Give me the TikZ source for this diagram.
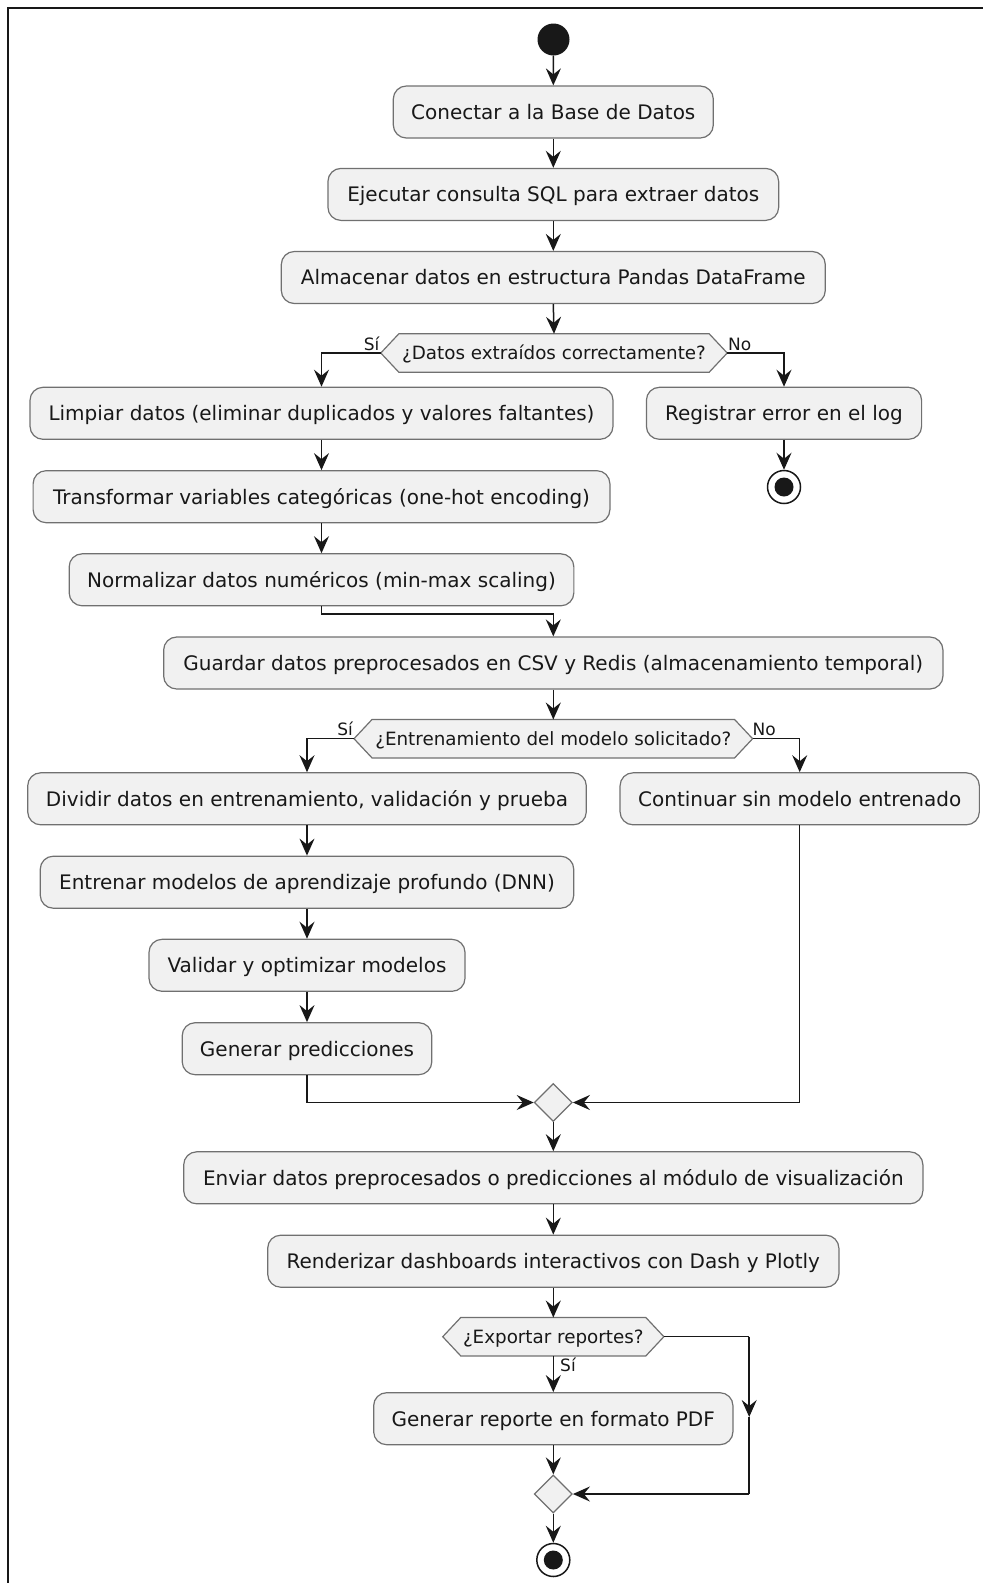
\documentclass[tikz,border=0pt]{standalone}
\usepackage{fontspec}
\setmainfont{DejaVu Sans}
\usetikzlibrary{arrows.meta,shapes.geometric,backgrounds}

\definecolor{boxfill}{HTML}{F1F1F1}
\definecolor{ink}{HTML}{181818}
\definecolor{edge}{HTML}{707070}

\tikzset{
  act/.style={draw=edge, line width=1.2pt, fill=boxfill, rounded corners=13pt,
    minimum height=52pt, inner sep=0pt, text=ink, text height=14.6pt, text depth=0pt,
    font=\fontsize{20}{24}\selectfont},
  hexbox/.style={minimum height=38pt, inner sep=0pt, text=ink, text height=13.3pt,
    text depth=0pt, font=\fontsize{18.3}{22}\selectfont},
  hexshape/.style={draw=edge, line width=1.2pt, fill=boxfill},
  merge/.style={diamond, draw=edge, fill=boxfill, line width=1.2pt,
    minimum size=38pt, inner sep=0pt},
  startdot/.style={circle, fill=ink, minimum size=32pt, inner sep=0pt},
  enddot/.style={circle, draw=ink, line width=1.5pt, fill=white, minimum size=33pt,
    inner sep=0pt, path picture={\fill[ink] (path picture bounding box.center) circle (9.5pt);}},
  conn/.style={draw=ink, line width=1.5pt},
  arr/.style={conn, -{Stealth[length=17pt,width=15pt,inset=6pt]}},
  lbl/.style={font=\fontsize{17}{20}\selectfont, inner sep=0pt, text=ink}
}

\begin{document}
\begin{tikzpicture}[x=1pt,y=-1pt]
\useasboundingbox (0,0) rectangle (983,1583);

% outer frame (top and left edges)
\draw[ink, line width=2pt, line cap=rect] (8.3,1583) -- (8.3,8.3) -- (983,8.3);

% main column
\node[startdot] (s) at (553.5,39.5) {};
\node[act, minimum width=320pt] (b1) at (553.3,112) {Conectar a la Base de Datos};
\node[act, minimum width=450.7pt] (b2) at (553.3,194.4) {Ejecutar consulta SQL para extraer datos};
\node[act, minimum width=544pt] (b3) at (553.3,277.5) {Almacenar datos en estructura Pandas DataFrame};
\node[hexbox, minimum width=346pt] (d1) at (554,353) {¿Datos extraídos correctamente?};

% preprocessing branch
\node[act, minimum width=583pt] (lim) at (321.5,413.3) {Limpiar datos (eliminar duplicados y valores faltantes)};
\node[act, minimum width=275.2pt] (reg) at (784,413.3) {Registrar error en el log};
\node[enddot] (e1) at (784,487) {};
\node[act, minimum width=576.8pt] (tra) at (321.5,496.7) {Transformar variables categóricas (one-hot encoding)};
\node[act, minimum width=504.7pt] (nor) at (321.5,579.8) {Normalizar datos numéricos (min-max scaling)};
\node[act, minimum width=779.3pt] (gua) at (553.3,663) {Guardar datos preprocesados en CSV y Redis (almacenamiento temporal)};
\node[hexbox, minimum width=398.2pt] (d2) at (553.3,738.7) {¿Entrenamiento del modelo solicitado?};

% training branch
\node[act, minimum width=558.6pt] (div) at (307,798.8) {Dividir datos en entrenamiento, validación y prueba};
\node[act, minimum width=359.3pt] (con) at (799.7,798.8) {Continuar sin modelo entrenado};
\node[act, minimum width=533.5pt] (ent) at (307,882.2) {Entrenar modelos de aprendizaje profundo (DNN)};
\node[act, minimum width=316pt] (val) at (307,965.3) {Validar y optimizar modelos};
\node[act, minimum width=249.6pt] (gpr) at (307,1048.7) {Generar predicciones};
\node[merge] (m1) at (553.3,1102.5) {};

% visualisation
\node[act, minimum width=739.2pt] (env) at (553.3,1177.8) {Enviar datos preprocesados o predicciones al módulo de visualización};
\node[act, minimum width=571.2pt] (ren) at (553.3,1261.2) {Renderizar dashboards interactivos con Dash y Plotly};
\node[hexbox, minimum width=220.7pt] (d3) at (553.3,1336.7) {¿Exportar reportes?};
\node[act, minimum width=359.3pt] (gre) at (553.3,1418.7) {Generar reporte en formato PDF};
\node[merge] (m2) at (553.3,1494) {};
\node[enddot] (e2) at (553.3,1560) {};

% decision outlines
\begin{scope}[on background layer]
\foreach \h in {d1,d2,d3}
  \draw[hexshape] (\h.west) -- ([xshift=18pt]\h.north west) -- ([xshift=-18pt]\h.north east)
    -- (\h.east) -- ([xshift=-18pt]\h.south east) -- ([xshift=18pt]\h.south west) -- cycle;
\end{scope}

% branch labels
\node[lbl, anchor=base east] (l1y) at (379.5,350) {Sí};
\node[lbl, anchor=base west] (l1n) at (728,350) {No};
\node[lbl, anchor=base east] (l2y) at (353,735) {Sí};
\node[lbl, anchor=base west] (l2n) at (752.5,735) {No};
\node[lbl, anchor=base west] (l3y) at (560,1371.5) {Sí};

% connectors
\draw[arr] (s) -- (b1.north);
\draw[arr] (b1.south) -- (b2.north);
\draw[arr] (b2.south) -- (b3.north);
\draw[arr] (b3.south) -- (d1.north);
\draw[arr] (d1.west) -| (lim.north);
\draw[arr] (d1.east) -| (reg.north);
\draw[arr] (reg.south) -- (e1);
\draw[arr] (lim.south) -- (tra.north);
\draw[arr] (tra.south) -- (nor.north);
\draw[arr] (nor.south) -- ++(0,7.5) -| (gua.north);
\draw[arr] (gua.south) -- (d2.north);
\draw[arr] (d2.west) -| (div.north);
\draw[arr] (d2.east) -| (con.north);
\draw[arr] (div.south) -- (ent.north);
\draw[arr] (ent.south) -- (val.north);
\draw[arr] (val.south) -- (gpr.north);
\draw[arr] (gpr.south) |- (m1.west);
\draw[arr] (con.south) |- (m1.east);
\draw[arr] (m1.south) -- (env.north);
\draw[arr] (env.south) -- (ren.north);
\draw[arr] (ren.south) -- (d3.north);
\draw[arr] (d3.south) -- (gre.north);
\draw[arr] (gre.south) -- (m2.north);
\draw[arr] (m2.south) -- (e2);

% "no export" path around the report step
\coordinate (d3r) at (749.2,1336.7);
\coordinate (d3mid) at (749.2,1417);
\coordinate (m2r) at (749.2,1494);
\draw[conn] (d3.east) -- (d3r);
\draw[arr] (d3r) -- (d3mid);
\draw[conn] (d3mid) -- (m2r);
\draw[arr] (m2r) -- (m2.east);
\end{tikzpicture}
\end{document}
